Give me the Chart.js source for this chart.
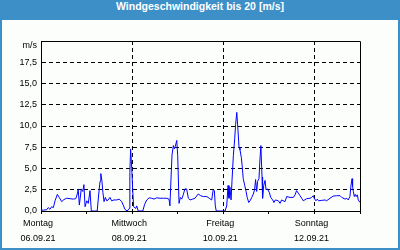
<!DOCTYPE html>
<html>
<head>
<meta charset="utf-8">
<script src="https://cdn.jsdelivr.net/npm/chart.js@4"></script>
<style>
    body { margin: 0; width: 400px; height: 250px; overflow: hidden; background: #3d8fc7; position: relative; }
    #title { position: absolute; left: 0; top: 0; width: 400px; height: 20px; line-height: 18px; text-align: center;
             color: #fff; font: bold 10.5px "Liberation Sans", Arial, sans-serif; }
    #frame { position: absolute; left: 2px; top: 20px; width: 396px; height: 228px; background: #fcfefc; }
    #chart { position: absolute; left: 0; top: 0; }
</style>
</head>
<body>
<div id="title">Windgeschwindigkeit bis 20 [m/s]</div>
<div id="frame"></div>
<canvas id="chart" width="400" height="250"></canvas>
<script>
// hours since Monday 06.09.21 00:00
const hours = [0, 1.2, 3.0, 3.8, 4.7, 5.6, 6.5, 7.4, 8.6, 9.6, 10.9, 12.1, 13.5, 15.3, 17.0, 18.3, 19.1, 19.6, 20.2, 21.2,
    22.0, 22.6, 23.2, 24.1, 24.9, 25.8, 26.5, 28.4, 29.6, 30.4, 31.1, 31.5, 32.1, 32.6, 33.2, 33.9, 34.6, 35.4, 36.3, 37.2,
    38.4, 39.9, 41.2, 42.5, 43.3, 44.2, 45.4, 46.5, 46.8, 47.2, 47.8, 48.3, 48.8, 49.9, 50.4, 51.2, 53.6, 54.6, 55.7, 57.0,
    58.3, 59.5, 60.9, 62.7, 64.4, 66.2, 67.4, 67.9, 68.5, 69.0, 69.7, 70.2, 70.7, 71.5, 72.0, 72.7, 73.4, 74.1, 74.9, 75.8,
    76.7, 77.6, 78.5, 79.9, 81.1, 82.8, 84.1, 85.5, 87.3, 88.6, 89.9, 90.7, 91.3, 91.8, 92.3, 96.9, 97.8, 98.5, 99.0, 99.5,
    100.1, 100.6, 101.3, 102.0, 102.5, 103.1, 103.6, 104.3, 104.8, 105.5, 106.0, 106.5, 107.3, 108.0, 108.6, 109.4, 110.1,
    111.0, 111.8, 112.5, 113.0, 113.6, 114.1, 114.8, 115.3, 115.8, 116.4, 116.7, 117.3, 118.0, 118.5, 119.2, 120.2, 121.0,
    122.0, 122.7, 123.4, 125.0, 125.9, 126.7, 128.5, 129.4, 131.1, 132.9, 133.8, 134.6, 135.5, 136.4, 137.3, 138.1, 139.9,
    141.7, 142.5, 143.4, 143.9, 144.8, 145.5, 146.2, 147.8, 149.6, 150.4, 152.2, 153.9, 155.7, 157.5, 158.4, 160.1, 161.0,
    161.8, 162.7, 163.2, 163.8, 164.1, 164.5, 165.0, 165.5, 166.0, 166.6, 167.1, 168];

const speed = [0.1, 0.1, 0.15, 0.4, 0.2, 0.5, 0.4, 1.2, 1.95, 1.6, 1.1, 1.35, 1.5, 1.45, 1.4, 1.45, 2.0, 2.5, 0.7, 2.6,
    2.3, 3.1, 0.5, 1.2, 0.9, 2.4, 0.0, 0.0, 0.0, 2.0, 3.5, 4.4, 3.5, 2.2, 1.1, 1.6, 1.2, 1.3, 1.6, 1.2,
    1.3, 1.3, 1.4, 1.1, 0.7, 0.2, 0.0, 0.3, 4.5, 7.3, 5.0, 2.4, 0.5, 0.3, 0.6, 0.0, 0.0, 0.8, 1.3, 1.55,
    1.5, 1.4, 1.55, 1.5, 1.5, 1.5, 1.4, 0.6, 4.0, 6.6, 7.7, 7.3, 7.6, 8.3, 6.5, 0.9, 1.6, 1.4, 1.9, 2.6,
    2.6, 1.5, 1.3, 1.4, 1.5, 2.0, 1.8, 1.7, 1.7, 1.5, 1.3, 2.5, 2.4, 0.6, 0.0, 0.0, 0.6, 3.0, 1.5, 2.8,
    1.3, 3.6, 6.5, 8.5, 10.2, 11.6, 10.0, 7.5, 7.2, 6.3, 5.2, 3.8, 3.0, 2.3, 1.6, 1.0, 1.2,
    1.6, 2.0, 2.5, 3.7, 2.3, 3.5, 3.8, 6.0, 7.7, 4.0, 1.5, 3.0, 3.6, 2.5, 2.6, 2.2, 1.6,
    1.3, 1.0, 1.3, 1.2, 0.9, 1.3, 1.1, 1.7, 1.6, 1.6, 1.9, 2.4, 2.1, 1.8, 1.5, 1.2, 1.45,
    1.5, 1.6, 1.8, 1.5, 1.2, 1.4, 1.2, 1.25, 1.3, 1.2, 1.5, 1.75, 1.8, 1.8, 1.6, 1.4, 1.5,
    1.3, 1.7, 2.9, 3.8, 2.9, 2.3, 1.7, 1.95, 1.7, 1.9, 1.3, 1.0];

const dayNames = ['Montag', 'Mittwoch', 'Freitag', 'Sonntag'];
const dayDates = ['06.09.21', '08.09.21', '10.09.21', '12.09.21'];
const gridHours = [48, 96, 144];
const yMax = 20;
const yStep = 2.5;
const unitLabel = 'm/s';

const tickFont = { family: '"Liberation Sans", Arial, sans-serif', size: 9 };

// top/right frame line and unit label
const framePlugin = {
    id: 'frame',
    afterDraw(chart) {
        const { ctx, chartArea } = chart;
        ctx.save();
        ctx.strokeStyle = '#000';
        ctx.lineWidth = 1;
        ctx.beginPath();
        ctx.moveTo(chartArea.left + 0.5, chartArea.top + 0.5);
        ctx.lineTo(chartArea.right + 0.5, chartArea.top + 0.5);
        ctx.lineTo(chartArea.right + 0.5, chartArea.bottom + 0.5);
        ctx.stroke();
        ctx.fillStyle = '#000';
        ctx.font = '9px "Liberation Sans", Arial, sans-serif';
        ctx.textAlign = 'right';
        ctx.textBaseline = 'middle';
        ctx.fillText(unitLabel, chartArea.left - 4, chartArea.top + 5);
        ctx.restore();
    }
};

new Chart(document.getElementById('chart'), {
    type: 'line',
    data: {
        datasets: [
            {
                data: hours.map((h, i) => ({ x: h, y: speed[i] })),
                borderColor: '#0000ff',
                borderWidth: 1,
                pointRadius: 0,
                tension: 0,
                fill: false
            }
        ]
    },
    options: {
        responsive: false,
        animation: false,
        devicePixelRatio: 1,
        layout: { padding: { left: 0, top: 41, right: 40, bottom: 0 } },
        plugins: {
            legend: { display: false },
            tooltip: { enabled: false }
        },
        scales: {
            x: {
                type: 'linear',
                min: 0,
                max: 168,
                afterFit: scale => { scale.height = 39; },
                ticks: {
                    stepSize: 24,
                    autoSkip: false,
                    maxRotation: 0,
                    color: '#000',
                    font: { ...tickFont, lineHeight: '15px' },
                    padding: 2,
                    labelOffset: -3,
                    callback: value => {
                        if (value % 48 !== 0) return '';
                        const k = value / 48;
                        return k < dayNames.length ? [dayNames[k], dayDates[k]] : '';
                    }
                },
                grid: {
                    color: ctx => gridHours.includes(ctx.tick && ctx.tick.value) ? '#000' : 'rgba(0,0,0,0)',
                    tickColor: '#000',
                    tickLength: 3,
                    lineWidth: 1
                },
                border: { color: '#000', width: 1, dash: [4, 3] }
            },
            y: {
                min: 0,
                max: yMax,
                afterFit: scale => { scale.width = 41; },
                ticks: {
                    stepSize: yStep,
                    color: '#000',
                    font: tickFont,
                    padding: 4,
                    callback: value => value >= yMax ? '' : value.toFixed(1).replace('.', ',')
                },
                grid: {
                    color: ctx => {
                        const v = ctx.tick && ctx.tick.value;
                        return v > 0 && v < yMax ? '#000' : 'rgba(0,0,0,0)';
                    },
                    drawTicks: false,
                    lineWidth: 1
                },
                border: { color: '#000', width: 1, dash: [4, 3] }
            }
        }
    },
    plugins: [framePlugin]
});
</script>
</body>
</html>
